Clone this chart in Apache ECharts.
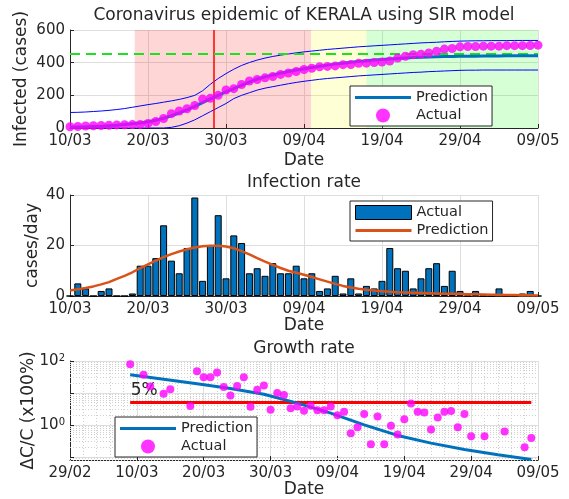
<!DOCTYPE html>
<html><head><meta charset="utf-8">
<script src="https://cdn.jsdelivr.net/npm/echarts@6/dist/echarts.min.js"></script>
<style>html,body{margin:0;padding:0;background:#fff}#c{width:569px;height:499px}</style>
</head><body><div id="c"></div>
<script>
// ---------- data (day offsets counted from 10/03) ----------
const ticksTop = ['10/03','20/03','30/03','09/04','19/04','29/04','09/05'];
const ticksGrowth = ['29/02','10/03','20/03','30/03','09/04','19/04','29/04','09/05'];

const cumActual = [8,9,12,14,15,17,19,20,21,22, 28,40,58,88,104,118,138,177,182,200,
  233,241,266,288,297,307,315,328,337,346, 358,366,375,377,380,388,389,396,397,401,
  404,410,428,439,449,452,459,470,483,487, 497,499,499,501,501,501,504,504,504,505, 507];
const predCum = [5,6,7,9,11,14,17,21,26,31, 38,48,60,75,92,111,132,155,178,200,
  221,241,261,281,300,313,325,336,346,355, 363,371,378,385,391,397,402,407,412,416,
  420,423,426,429,431,433,435,436,437,438, 439,440,440,441,441,441,442,442,442,442, 442];
const upperBound = [95,96,98,101,104,108,113,119,127,135, 143,150,158,166,175,186,200,228,268,303,
  333,360,383,401,416,428,438,446,453,460, 466,471,476,481,485,489,493,497,500,503,
  506,509,512,515,518,521,523,525,528,530, 532,533,534,534,535,535,535,536,536,536, 536];
const lowerBound = [0,0,0,0,0,0,0,0,0,0, 0,0,0,4,14,30,50,75,100,125,
  150,180,200,216,232,244,253,262,271,279, 286,292,298,303,307,311,315,319,322,325,
  328,331,334,337,340,342,345,347,349,351, 353,354,354,355,355,355,355,355,355,355, 355];
const phaseEdges = [8.3, 30.9, 38.0, 60];   // pink, yellow, green bands
const peakDay = 18.4;
const plateauLevel = 453;

const dailyActual = [0,5,3,0,2,3,0,0,1,12, 12,15,28,14,9,19,39,6,20,32,
  7,24,21,9,11,8,13,9,9,12, 7,9,2,3,8,1,7,1,4,3,
  6,19,11,10,3,7,11,13,4,10, 2,0,2,0,0,3,0,0,1,2, 0];
const ratePred = [2.2,2.7,3.2,3.8,4.6,5.5,6.8,8.0,9.4,11.0, 12.5,14.0,15.4,16.6,17.6,18.5,19.2,19.7,19.9,19.9,
  19.6,18.9,17.8,16.5,15.0,13.6,12.3,11.1,10.0,9.2, 8.4,7.5,6.6,5.7,4.8,4.0,3.4,2.9,2.5,2.2,
  1.9,1.7,1.5,1.4,1.3,1.2,1.1,1.0,0.9,0.85, 0.8,0.7,0.65,0.6,0.5,0.45,0.4,0.35,0.3,0.25, 0.2];

const growthDays = [-1,1,2,4,5,8,9,10,11,12,13,14,15,16,17,18,19,20,21,22,23,24,25,26,27,28,29,30,31,32,33,34,35,36,37,38,39,40,41,42,43,44,45,46,47,48,49,50,52,55,58,59];
const growthVals = [79,37,16,9.5,13,3.9,48,31,31,44,15.5,8.4,16.5,31,3.7,12.5,17,3.0,10,8.7,3.3,3.8,2.8,4.0,2.9,2.9,3.8,2.0,2.6,0.55,0.85,2.2,0.25,1.85,0.25,0.95,0.5,1.5,4.7,2.6,2.45,0.72,1.7,2.6,2.75,0.85,2.2,0.44,0.44,0.62,0.2,0.39];
const growthPredDays = [-1,4,9,14,19,24,29,34,39,44,49,54,59];
const growthPredVals = [37,27,19.5,13.8,9.1,4.8,2.35,1.0,0.47,0.27,0.17,0.117,0.083];
const thresholdDays = [-1, 59];
const thresholdVals = [5, 5];
const thresholdLabel = {day: 1.1, val: 11.5, text: '5%'};

// ---------- helpers ----------
const FONT = 'DejaVu Sans';
const TXT = '#262626';
const GRIDC = '#dedede';
const dayIdx = cumActual.map((_, i) => i);
const pairs = (xs, ys) => xs.map((x, i) => [x, ys[i]]);
const nameStyle = {color: TXT, fontSize: 17, fontFamily: FONT};
const LINE_ICON = 'path://M0,0H56V3H0Z';

function xAx(gridIndex, min, max, labels, gap, minor) {
  return {
    type: 'value', gridIndex, min, max, interval: 10,
    axisLine: {show: true, onZero: false, lineStyle: {color: TXT, width: 1}},
    axisTick: {show: true, inside: true, length: 4, lineStyle: {color: TXT}},
    axisLabel: {color: TXT, fontSize: 15, fontFamily: FONT, margin: 6,
      formatter: v => labels[Math.round((v - min) / 10)] || ''},
    splitLine: {show: true, lineStyle: {color: GRIDC}},
    minorTick: {show: false, splitNumber: 5},
    minorSplitLine: {show: !!minor, lineStyle: {color: '#d0d0d0', type: [1, 2]}},
    name: 'Date', nameLocation: 'middle', nameGap: gap, nameMoveOverlap: false, nameTextStyle: nameStyle
  };
}
function yAx(gridIndex, extra) {
  return Object.assign({
    type: 'value', gridIndex,
    axisLine: {show: true, onZero: false, lineStyle: {color: TXT, width: 1}},
    axisTick: {show: true, inside: true, length: 4, lineStyle: {color: TXT}},
    axisLabel: {color: TXT, fontSize: 15, fontFamily: FONT, margin: 5},
    splitLine: {show: true, lineStyle: {color: GRIDC}},
    nameLocation: 'middle', nameRotate: 90, nameMoveOverlap: false, nameTextStyle: nameStyle
  }, extra);
}
function legendBox(left, top, items) {
  return {
    left, top, z: 10, orient: 'vertical', itemWidth: 56, itemHeight: 14, itemGap: 3,
    padding: [4, 4, 3, 5], borderColor: TXT, borderWidth: 1, backgroundColor: '#fff',
    selectedMode: false, data: items,
    textStyle: {color: TXT, fontSize: 14.5, fontFamily: FONT},
    formatter: n => n.replace(/[0-9]+$/, '')
  };
}
const minorLogLines = [];
[0.01, 0.1, 1, 10].forEach(dec => { for (let k = 2; k <= 9; k++) minorLogLines.push(k * dec); });

const bandColors = ['rgba(255,0,0,0.16)', 'rgba(255,255,0,0.16)', 'rgba(0,255,0,0.16)'];

const chart = echarts.init(document.getElementById('c'));
chart.setOption({
  animation: false,
  textStyle: {fontFamily: FONT},
  title: [
    {text: 'Coronavirus epidemic of KERALA using SIR model', left: 304, top: 7, textAlign: 'center', padding: 0,
      textStyle: {fontSize: 17, fontWeight: 'normal', color: TXT, fontFamily: FONT}},
    {text: 'Infection rate', left: 304, top: 174, textAlign: 'center', padding: 0,
      textStyle: {fontSize: 17, fontWeight: 'normal', color: TXT, fontFamily: FONT}},
    {text: 'Growth rate', left: 304, top: 340, textAlign: 'center', padding: 0,
      textStyle: {fontSize: 17, fontWeight: 'normal', color: TXT, fontFamily: FONT}}
  ],
  grid: [
    {left: 70, top: 30, width: 468, height: 98},
    {left: 70, top: 195, width: 468, height: 101},
    {left: 70, top: 361, width: 468, height: 101}
  ],
  xAxis: [
    xAx(0, 0, 60, ticksTop, 24, false),
    xAx(1, 0, 60, ticksTop, 21, false),
    xAx(2, -10, 60, ticksGrowth, 21, true)
  ],
  yAxis: [
    yAx(0, {min: 0, max: 600, interval: 200, name: 'Infected (cases)', nameGap: 40}),
    yAx(1, {min: 0, max: 40, interval: 20, name: 'cases/day', nameGap: 29}),
    yAx(2, {type: 'log', logBase: 10, min: 0.08, max: 100, name: 'ΔC/C (x100%)', nameGap: 33,
      axisLabel: {color: TXT, fontSize: 15, fontFamily: FONT, margin: 5,
        formatter: v => { const l = Math.round(Math.log10(v) * 1000) / 1000;
          return l === 2 ? '{b|10}{s|2}' : (l === 0 ? '{b|10}{s|0}' : ''); },
        rich: {b: {fontSize: 15, color: TXT, fontFamily: FONT, verticalAlign: 'bottom'},
               s: {fontSize: 10, color: TXT, fontFamily: FONT, verticalAlign: 'top'}}}})
  ],
  legend: [
    legendBox(350, 86, [{name: 'Prediction1', icon: LINE_ICON}, {name: 'Actual1', icon: 'circle'}]),
    legendBox(350, 201, [{name: 'Actual2', icon: 'rect', itemStyle: {borderWidth: 1, borderColor: '#000'}}, {name: 'Prediction2', icon: LINE_ICON}]),
    legendBox(115, 417, [{name: 'Prediction3', icon: LINE_ICON}, {name: 'Actual3', icon: 'circle'}])
  ],
  series: [
    {name: 'upper', type: 'line', xAxisIndex: 0, yAxisIndex: 0, data: pairs(dayIdx, upperBound),
      symbol: 'none', silent: true, z: 3, lineStyle: {color: '#0000ff', width: 1},
      markArea: {silent: true, data: bandColors.map((c, i) => [
        {xAxis: phaseEdges[i], itemStyle: {color: c}}, {xAxis: phaseEdges[i + 1]}])}},
    {name: 'lower', type: 'line', xAxisIndex: 0, yAxisIndex: 0, data: pairs(dayIdx, lowerBound),
      symbol: 'none', silent: true, z: 3, lineStyle: {color: '#0000ff', width: 1}},
    {name: 'Prediction1', type: 'line', xAxisIndex: 0, yAxisIndex: 0, data: pairs(dayIdx, predCum),
      symbol: 'none', z: 4, lineStyle: {color: '#0072BD', width: 3}, itemStyle: {color: '#0072BD'},
      markLine: {silent: true, symbol: 'none', label: {show: false}, z: 4, data: [
        {xAxis: peakDay, lineStyle: {color: '#ff0000', width: 1.5, type: 'solid'}},
        {yAxis: plateauLevel, lineStyle: {color: '#1ee01e', width: 2, type: [10, 6]}}]}},
    {name: 'Actual1', type: 'scatter', xAxisIndex: 0, yAxisIndex: 0, data: pairs(dayIdx, cumActual),
      symbol: 'circle', symbolSize: 9, z: 5, itemStyle: {color: '#ff00ff'}},

    {name: 'Actual2', type: 'bar', xAxisIndex: 1, yAxisIndex: 1, data: pairs(dayIdx, dailyActual),
      barWidth: 7, itemStyle: {color: '#0072BD', borderColor: '#000', borderWidth: 1}},
    {name: 'Prediction2', type: 'line', xAxisIndex: 1, yAxisIndex: 1, data: pairs(dayIdx, ratePred),
      symbol: 'none', z: 4, lineStyle: {color: '#D95319', width: 2.5}, itemStyle: {color: '#D95319'}},

    {name: 'minorgrid', type: 'line', xAxisIndex: 2, yAxisIndex: 2, data: [], z: 1, silent: true,
      markLine: {silent: true, symbol: 'none', label: {show: false}, z: 1,
        lineStyle: {color: '#d0d0d0', width: 1, type: [1, 2]},
        data: minorLogLines.map(v => ({yAxis: v}))}},
    {name: 'threshold', type: 'line', xAxisIndex: 2, yAxisIndex: 2, data: pairs(thresholdDays, thresholdVals),
      symbol: 'none', z: 3, silent: true, lineStyle: {color: '#ff0000', width: 3},
      markPoint: {silent: true, symbol: 'circle', symbolSize: 0,
        data: [{coord: [thresholdLabel.day, thresholdLabel.val], value: thresholdLabel.text}],
        label: {show: true, position: 'inside', formatter: thresholdLabel.text, color: TXT, fontSize: 17, fontFamily: FONT}}},
    {name: 'Prediction3', type: 'line', xAxisIndex: 2, yAxisIndex: 2, data: pairs(growthPredDays, growthPredVals),
      symbol: 'none', z: 4, lineStyle: {color: '#0072BD', width: 3}, itemStyle: {color: '#0072BD'}},
    {name: 'Actual3', type: 'scatter', xAxisIndex: 2, yAxisIndex: 2, data: pairs(growthDays, growthVals),
      symbol: 'circle', symbolSize: 8, z: 5, itemStyle: {color: '#ff00ff'}}
  ]
});
</script>
</body></html>
